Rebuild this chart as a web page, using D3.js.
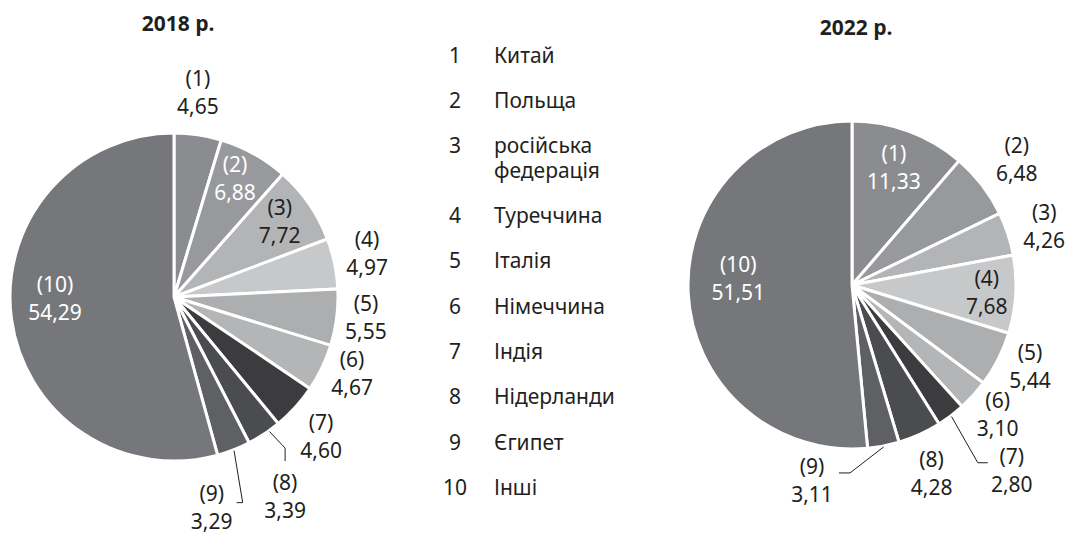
<!DOCTYPE html>
<html lang="uk">
<head>
  <meta charset="utf-8" />
  <style>
    body { margin: 0; background: #fff; }
    text { font-family: "Noto Sans", "Open Sans", sans-serif; fill: #231f20; }
    .slice { stroke: #fff; stroke-width: 3px; stroke-linejoin: miter; }
    .leader { fill: none; stroke: #231f20; stroke-width: 1px; }
  </style>
</head>
<body>
<script src="https://d3js.org/d3.v7.min.js"></script>
<script>
// data
var categories = ["Китай", "Польща", "російська федерація", "Туреччина", "Італія",
                  "Німеччина", "Індія", "Нідерланди", "Єгипет", "Інші"];
var values2018 = [4.65, 6.88, 7.72, 4.97, 5.55, 4.67, 4.60, 3.39, 3.29, 54.29];
var values2022 = [11.33, 6.48, 4.26, 7.68, 5.44, 3.10, 2.80, 4.28, 3.11, 51.51];
var titles = ["2018 р.", "2022 р."];

// styling
var colors = ["#8b8c8f", "#98999c", "#b3b4b6", "#c7c8ca", "#adaeb0",
              "#b4b5b7", "#3c3c3e", "#4b4c4f", "#5f6063", "#76777b"];

// label placement: radius, angle nudge (deg), white text, leader offsets from label centre
var layout2018 = [
  {r: 206, da: -1.7}, {r: 133, da: -1.8, white: true}, {r: 130, da: -1},
  {r: 198, da: -1}, {r: 193, da: -1.2}, {r: 194, da: -2.2}, {r: 203, da: 1.3},
  {r: 228, da: 4.2, leader: [[0, -48], [0, -35]], la: -2},
  {r: 214, da: 11.2, leader: [[31, -5], [25, -5]]},
  {r: 119, da: 7.2, white: true}
];
var layout2022 = [
  {r: 125, da: -0.8, white: true}, {r: 207, da: 0.3}, {r: 201, da: 1.2},
  {r: 135, da: -0.3}, {r: 196, da: -2.2}, {r: 195, da: -0.6},
  {r: 245, da: -3.6, leader: [[-34, -8], [-24, -8]]},
  {r: 205, da: 1.5},
  {r: 200, da: 22.6, leader: [[38, -8], [27, -8]]},
  {r: 114, da: 6.2, white: true}
];

var W = 1072, H = 535, R = 164;

var svg = d3.select("body").append("svg")
  .attr("width", W)
  .attr("height", H);

var pie = d3.pie().sort(null).value(function(d){ return d; });
var arc = d3.arc().innerRadius(0).outerRadius(R);
var fmt = function(v){ return v.toFixed(2).replace(".", ","); };

drawPie(values2018, layout2018, titles[0], 174, 297, 178, 31);
drawPie(values2022, layout2022, titles[1], 852, 285, 856, 35);

function polar(r, a) {
  return [r * Math.sin(a), -r * Math.cos(a)];
}

function drawPie(values, layout, title, cx, cy, tx, ty) {
  svg.append("text")
    .attr("x", tx)
    .attr("y", ty)
    .attr("text-anchor", "middle")
    .style("font-size", "21px")
    .style("font-weight", "bold")
    .text(title);

  var g = svg.append("g")
    .attr("transform", "translate(" + cx + "," + cy + ")");

  var arcs = pie(values);

  g.selectAll("path.slice")
    .data(arcs)
    .enter()
    .append("path")
      .attr("class", "slice")
      .attr("fill", function(d, i){ return colors[i]; })
      .attr("d", arc);

  arcs.forEach(function(d, i) {
    var L = layout[i],
        mid = (d.startAngle + d.endAngle) / 2,
        p = polar(L.r, mid + L.da * Math.PI / 180);

    if (L.leader) {
      var s = polar(R + 1, mid + (L.la || 0) * Math.PI / 180);
      var pts = [s].concat(L.leader.map(function(o){ return [p[0] + o[0], p[1] + o[1]]; }));
      g.append("path")
        .attr("class", "leader")
        .attr("d", d3.line()(pts));
    }

    var t = g.append("text")
      .attr("text-anchor", "middle")
      .style("font-size", "21px")
      .style("fill", L.white ? "#ffffff" : "#231f20");
    t.append("tspan").attr("x", p[0]).attr("y", p[1] - 14 + 7.5).text("(" + (i + 1) + ")");
    t.append("tspan").attr("x", p[0]).attr("y", p[1] + 14 + 7.5).text(fmt(values[i]));
  });
}

// legend
var legend = svg.append("g");
var ly = 55;
categories.forEach(function(name, i) {
  var lines = i === 2 ? name.split(" ") : [name];
  legend.append("text")
    .attr("x", 455)
    .attr("y", ly + 7.5)
    .attr("text-anchor", "middle")
    .style("font-size", "21px")
    .text(i + 1);
  var t = legend.append("text")
    .style("font-size", "21px");
  lines.forEach(function(line, j) {
    t.append("tspan")
      .attr("x", 494)
      .attr("y", ly + 7.5 + j * 25)
      .text(line);
  });
  ly += 45.4 + (lines.length - 1) * 24;
});
</script>
</body>
</html>
